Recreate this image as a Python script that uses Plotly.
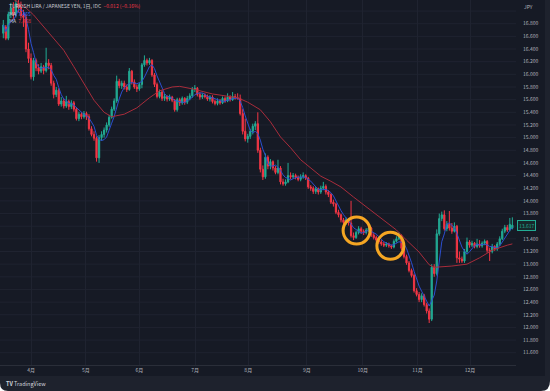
import plotly.graph_objects as go
import pandas as pd

# ---- data (TRY/JPY daily) ----
opens = [16.65, 16.75, 16.57, 16.95, 17.05, 16.94, 17.12, 17.06, 16.93, 16.90,
         16.40, 16.25, 15.96, 16.22, 16.10, 16.05, 16.12, 16.06, 16.18, 16.14,
         15.86, 15.68, 15.75, 15.53, 15.58, 15.50, 15.57, 15.49, 15.55, 15.45,
         15.30, 15.37, 15.33, 15.38, 15.33, 15.14, 15.05, 14.99, 14.68, 15.00,
         15.05, 15.12, 15.20, 15.32, 15.45, 15.58, 15.89, 15.82, 15.86, 15.80,
         15.76, 16.05, 15.88, 15.80, 15.77, 15.84, 16.15, 16.22, 16.18, 16.22,
         15.99, 15.84, 15.65, 15.72, 15.62, 15.65, 15.61, 15.64, 15.59, 15.44,
         15.60, 15.55, 15.62, 15.56, 15.62, 15.66, 15.76, 15.78, 15.68, 15.64,
         15.67, 15.65, 15.61, 15.64, 15.57, 15.54, 15.58, 15.55, 15.62, 15.58,
         15.64, 15.60, 15.65, 15.63, 15.62, 15.38, 15.10, 14.98, 15.02, 15.10,
         15.18, 15.22, 14.80, 14.50, 14.38, 14.69, 14.55, 14.62, 14.52, 14.45,
         14.52, 14.30, 14.27, 14.30, 14.40, 14.38, 14.40, 14.37, 14.34, 14.38,
         14.40, 14.36, 14.22, 14.20, 14.15, 14.19, 14.14, 14.20, 14.23, 14.14,
         14.10, 13.98, 13.95, 13.82, 13.78, 13.70, 13.66, 13.70, 13.65, 13.45,
         13.42, 13.50, 13.56, 13.52, 13.50, 13.54, 13.57, 13.46, 13.42, 13.38,
         13.35, 13.32, 13.30, 13.32, 13.29, 13.27, 13.36, 13.40, 13.45, 13.25,
         13.12, 13.02, 12.90, 12.82, 12.58, 12.52, 12.44, 12.50, 12.36, 12.26,
         12.13, 12.95, 12.85, 13.48, 13.72, 13.78, 13.56, 13.63, 13.57, 13.52,
         13.60, 13.10, 13.08, 13.05, 13.20, 13.35, 13.30, 13.33, 13.28, 13.32,
         13.29, 13.33, 13.36, 13.22, 13.20, 13.28, 13.24, 13.32, 13.40, 13.52,
         13.58, 13.54, 13.57]
highs = [16.86, 16.78, 16.99, 17.13, 17.14, 17.20, 17.24, 17.15, 17.02, 16.95,
         16.50, 16.33, 16.26, 16.25, 16.16, 16.18, 16.15, 16.42, 16.24, 16.18,
         15.90, 15.80, 15.78, 15.64, 15.62, 15.66, 15.60, 15.59, 15.58, 15.48,
         15.41, 15.40, 15.42, 15.41, 15.37, 15.18, 15.10, 15.02, 15.04, 15.10,
         15.16, 15.24, 15.36, 15.49, 15.62, 15.98, 15.93, 15.90, 15.90, 15.84,
         16.10, 16.07, 15.92, 15.84, 15.87, 16.18, 16.30, 16.25, 16.26, 16.24,
         16.02, 15.87, 15.76, 15.75, 15.69, 15.67, 15.68, 15.66, 15.61, 15.63,
         15.63, 15.65, 15.64, 15.66, 15.70, 15.80, 15.83, 15.80, 15.72, 15.70,
         15.70, 15.68, 15.67, 15.67, 15.60, 15.62, 15.61, 15.65, 15.65, 15.70,
         15.67, 15.72, 15.69, 15.70, 15.68, 15.45, 15.30, 15.06, 15.14, 15.22,
         15.26, 15.40, 14.84, 14.56, 14.75, 14.72, 14.66, 14.64, 14.55, 14.65,
         14.55, 14.35, 14.34, 14.60, 14.45, 14.44, 14.43, 14.40, 14.42, 14.45,
         14.42, 14.38, 14.25, 14.23, 14.22, 14.21, 14.24, 14.30, 14.26, 14.17,
         14.12, 14.02, 13.97, 13.86, 13.80, 13.73, 13.74, 13.72, 14.00, 13.50,
         13.53, 13.60, 13.59, 13.55, 13.57, 13.60, 13.59, 13.49, 13.45, 13.41,
         13.38, 13.35, 13.35, 13.34, 13.31, 13.39, 13.44, 13.50, 13.47, 13.28,
         13.15, 13.05, 12.93, 12.85, 12.62, 12.56, 12.54, 12.53, 12.39, 12.30,
         13.00, 13.00, 13.55, 13.80, 13.83, 13.85, 13.68, 13.84, 13.65, 13.66,
         13.62, 13.20, 13.12, 13.24, 13.42, 13.38, 13.37, 13.35, 13.40, 13.38,
         13.36, 13.39, 13.38, 13.26, 13.32, 13.30, 13.35, 13.44, 13.56, 13.62,
         13.62, 13.73, 13.74]
lows = [16.57, 16.54, 16.54, 16.89, 16.86, 16.90, 16.98, 16.88, 16.75, 16.35,
        16.18, 15.92, 15.90, 16.05, 16.00, 16.02, 16.00, 16.03, 16.08, 15.82,
        15.62, 15.64, 15.50, 15.49, 15.46, 15.47, 15.44, 15.45, 15.41, 15.27,
        15.26, 15.29, 15.30, 15.28, 15.11, 15.02, 14.95, 14.62, 14.60, 14.95,
        15.00, 15.08, 15.17, 15.30, 15.42, 15.55, 15.78, 15.77, 15.76, 15.72,
        15.74, 15.84, 15.77, 15.72, 15.74, 15.78, 16.12, 16.14, 16.15, 15.96,
        15.80, 15.62, 15.62, 15.58, 15.58, 15.57, 15.58, 15.56, 15.41, 15.41,
        15.50, 15.52, 15.52, 15.53, 15.59, 15.63, 15.72, 15.65, 15.60, 15.61,
        15.62, 15.58, 15.57, 15.54, 15.51, 15.51, 15.52, 15.53, 15.55, 15.56,
        15.57, 15.58, 15.60, 15.60, 15.35, 15.05, 14.94, 14.92, 14.98, 15.05,
        15.12, 14.76, 14.45, 14.33, 14.35, 14.50, 14.50, 14.48, 14.42, 14.42,
        14.26, 14.24, 14.24, 14.28, 14.34, 14.35, 14.34, 14.31, 14.31, 14.35,
        14.33, 14.19, 14.16, 14.11, 14.11, 14.10, 14.11, 14.17, 14.10, 14.06,
        13.95, 13.91, 13.79, 13.74, 13.66, 13.62, 13.62, 13.61, 13.42, 13.38,
        13.40, 13.47, 13.48, 13.46, 13.47, 13.51, 13.43, 13.39, 13.35, 13.32,
        13.29, 13.27, 13.27, 13.26, 13.24, 13.25, 13.34, 13.38, 13.22, 13.09,
        12.99, 12.87, 12.79, 12.55, 12.49, 12.40, 12.40, 12.33, 12.22, 12.07,
        12.10, 12.80, 12.82, 13.45, 13.68, 13.53, 13.52, 13.53, 13.48, 13.50,
        13.02, 13.02, 13.02, 13.02, 13.17, 13.26, 13.27, 13.25, 13.25, 13.26,
        13.26, 13.30, 13.18, 13.05, 13.17, 13.21, 13.21, 13.29, 13.38, 13.49,
        13.51, 13.52, 13.55]
closes = [16.78, 16.57, 16.95, 17.05, 16.94, 17.12, 17.06, 16.93, 16.90, 16.40,
          16.25, 15.96, 16.22, 16.10, 16.05, 16.12, 16.06, 16.18, 16.14, 15.86,
          15.68, 15.75, 15.53, 15.58, 15.50, 15.57, 15.49, 15.55, 15.45, 15.30,
          15.37, 15.33, 15.38, 15.33, 15.14, 15.05, 14.99, 14.68, 15.00, 15.05,
          15.12, 15.20, 15.32, 15.45, 15.58, 15.89, 15.82, 15.86, 15.80, 15.76,
          16.05, 15.88, 15.80, 15.77, 15.84, 16.15, 16.22, 16.18, 16.22, 15.99,
          15.84, 15.65, 15.72, 15.62, 15.65, 15.61, 15.64, 15.59, 15.44, 15.60,
          15.55, 15.62, 15.56, 15.62, 15.66, 15.76, 15.78, 15.68, 15.64, 15.67,
          15.65, 15.61, 15.64, 15.57, 15.54, 15.58, 15.55, 15.62, 15.58, 15.64,
          15.60, 15.65, 15.63, 15.62, 15.38, 15.10, 14.98, 15.02, 15.10, 15.18,
          15.22, 14.80, 14.50, 14.38, 14.69, 14.55, 14.62, 14.52, 14.45, 14.52,
          14.30, 14.27, 14.30, 14.40, 14.38, 14.40, 14.37, 14.34, 14.38, 14.40,
          14.36, 14.22, 14.20, 14.15, 14.19, 14.14, 14.20, 14.23, 14.14, 14.10,
          13.98, 13.95, 13.82, 13.78, 13.70, 13.66, 13.70, 13.65, 13.45, 13.42,
          13.50, 13.56, 13.52, 13.50, 13.54, 13.57, 13.46, 13.42, 13.38, 13.35,
          13.32, 13.30, 13.32, 13.29, 13.27, 13.36, 13.40, 13.45, 13.25, 13.12,
          13.02, 12.90, 12.82, 12.58, 12.52, 12.44, 12.50, 12.36, 12.26, 12.13,
          12.95, 12.85, 13.48, 13.72, 13.78, 13.56, 13.63, 13.57, 13.52, 13.60,
          13.10, 13.08, 13.05, 13.20, 13.35, 13.30, 13.33, 13.28, 13.32, 13.29,
          13.33, 13.36, 13.22, 13.20, 13.28, 13.24, 13.32, 13.40, 13.52, 13.58,
          13.54, 13.629, 13.617]

# long moving average (candle index, value)
ma_long_idx = [0, 6, 9, 12, 16, 20, 24, 28, 32, 36, 40, 43, 48, 53, 58, 62, 67,
               70, 75, 83, 93, 97, 102, 106, 110, 114, 118, 122, 126, 130, 134,
               139, 147, 156, 160, 165, 169, 171, 178, 184, 189, 194, 200, 202]
ma_long_val = [17.30, 17.14, 17.05, 16.94, 16.75, 16.57, 16.38, 16.12, 15.86,
               15.59, 15.40, 15.33, 15.37, 15.47, 15.63, 15.74, 15.80, 15.81,
               15.77, 15.69, 15.63, 15.56, 15.44, 15.25, 15.01, 14.84, 14.65,
               14.52, 14.39, 14.31, 14.22, 14.06, 13.81, 13.54, 13.38, 13.19,
               12.99, 12.95, 12.97, 13.00, 13.10, 13.22, 13.30, 13.32]

month_labels = ["4月", "5月", "6月", "7月", "8月", "9月", "10月", "11月", "12月"]
month_pos = [11.0, 32.8, 54.0, 76.1, 97.2, 120.5, 142.6, 164.4, 185.2]

# 13.600 is hidden behind the last-price label in the reference
price_ticks = [11.6, 11.8, 12.0, 12.2, 12.4, 12.6, 12.8, 13.0, 13.2, 13.4,
               13.8, 14.0, 14.2, 14.4, 14.6, 14.8, 15.0, 15.2, 15.4,
               15.6, 15.8, 16.0, 16.2, 16.4, 16.6, 16.8]
grid_ticks = [11.6, 11.8, 12.0, 12.2, 12.4, 12.6, 12.8, 13.0, 13.2, 13.4,
              13.6, 13.8, 14.0, 14.2, 14.4, 14.6, 14.8, 15.0, 15.2, 15.4,
              15.6, 15.8, 16.0, 16.2, 16.4, 16.6, 16.8, 17.0]

circle_idx = [140.2, 153.6]
circle_price = [13.53, 13.29]

last_price = closes[-1]

# ---- figure ----
W, H = 550, 391
ML, MR, MT, MB = 0, 34, 0, 26
PW, PH = W - ML - MR, H - MT - MB

def px_x(px):
    return (px - ML) / PW

def px_y(py):
    return (H - MB - py) / PH

UP = "#22ab94"
DOWN = "#f23645"
BG = "#161a25"
STRIP = "#1e222d"
GRID = "#1f2330"
TXT = "#b2b5be"
FONT = "Noto Sans CJK JP, Noto Sans, sans-serif"

x = list(range(len(closes)))
ma_short = pd.Series(closes).rolling(5, min_periods=1).mean()

fig = go.Figure()
fig.add_trace(go.Candlestick(
    x=x, open=opens, high=highs, low=lows, close=closes,
    increasing=dict(line=dict(color=UP, width=1), fillcolor=UP),
    decreasing=dict(line=dict(color=DOWN, width=1), fillcolor=DOWN),
    hoverinfo="skip",
))
fig.add_trace(go.Scatter(x=x, y=ma_short, mode="lines",
                         line=dict(color="#2c4fd0", width=1), hoverinfo="skip"))
fig.add_trace(go.Scatter(x=ma_long_idx, y=ma_long_val, mode="lines",
                         line=dict(color="#a82c3b", width=1), hoverinfo="skip"))

xr = [-1.31, 203.45]
yr = [11.406, 17.175]

shapes = []
# horizontal grid lines (including the hidden-label level)
for g in grid_ticks:
    shapes.append(dict(type="line", xref="paper", yref="y", x0=0, x1=1,
                       y0=g, y1=g, line=dict(color=GRID, width=1),
                       layer="below"))
# frame strips
shapes.append(dict(type="rect", xref="paper", yref="paper",
                   x0=px_x(0), x1=px_x(W), y0=px_y(H), y1=px_y(376),
                   fillcolor=STRIP, line=dict(width=0), layer="below"))
shapes.append(dict(type="rect", xref="paper", yref="paper",
                   x0=px_x(545), x1=px_x(W), y0=px_y(H), y1=px_y(0),
                   fillcolor=STRIP, line=dict(width=0), layer="below"))
# rounded white corners
shapes.append(dict(type="path", xref="paper", yref="paper",
                   path=f"M {px_x(0)},{px_y(H)} L {px_x(0)},{px_y(383)} "
                        f"Q {px_x(0)},{px_y(H)} {px_x(8)},{px_y(H)} Z",
                   fillcolor="#ffffff", line=dict(width=0), layer="above"))
shapes.append(dict(type="path", xref="paper", yref="paper",
                   path=f"M {px_x(W)},{px_y(H)} L {px_x(W)},{px_y(381)} "
                        f"Q {px_x(W)},{px_y(H)} {px_x(541)},{px_y(H)} Z",
                   fillcolor="#ffffff", line=dict(width=0), layer="above"))
# orange highlight circles
rpx = 13.5
rx = rpx * (xr[1] - xr[0]) / PW
ry = rpx * (yr[1] - yr[0]) / PH
for cx, cy in zip(circle_idx, circle_price):
    shapes.append(dict(type="circle", xref="x", yref="y",
                       x0=cx - rx, x1=cx + rx, y0=cy - ry, y1=cy + ry,
                       line=dict(color="#f5a623", width=3), layer="above"))

annotations = [
    dict(xref="paper", yref="paper", x=px_x(7), y=px_y(6.3), xanchor="left",
         yanchor="middle", showarrow=False,
         text="TURKISH LIRA / JAPANESE YEN, 1日, IDC&nbsp;&nbsp;"
              f"<span style='color:{DOWN}'>−0.012 (−0.16%)</span>",
         font=dict(family=FONT, size=5, color="#c8cbd3")),
    dict(xref="paper", yref="paper", x=px_x(7), y=px_y(14), xanchor="left",
         yanchor="middle", showarrow=False,
         text="MA&nbsp;&nbsp;<span style='color:#2f6bff'>7.465</span>",
         font=dict(family=FONT, size=5, color="#c8cbd3")),
    dict(xref="paper", yref="paper", x=px_x(7), y=px_y(20.5), xanchor="left",
         yanchor="middle", showarrow=False,
         text=f"MA&nbsp;&nbsp;<span style='color:{DOWN}'>7.468</span>",
         font=dict(family=FONT, size=5, color="#c8cbd3")),
    dict(xref="paper", yref="paper", x=px_x(522), y=px_y(6), xanchor="left",
         yanchor="middle", showarrow=False, text="JPY",
         font=dict(family=FONT, size=5, color=TXT)),
    dict(xref="paper", yref="y", x=px_x(517), y=last_price, xanchor="left",
         yanchor="middle", showarrow=False, text=f"{last_price:.3f}",
         font=dict(family=FONT, size=5, color=UP),
         bgcolor="#17282b", bordercolor=UP, borderwidth=1, borderpad=1),
    dict(xref="paper", yref="paper", x=px_x(4), y=px_y(384), xanchor="left",
         yanchor="middle", showarrow=False,
         text="<b>TV</b> TradingView",
         font=dict(family=FONT, size=5.5, color="#d1d4dc")),
]

fig.update_layout(
    width=W, height=H,
    margin=dict(l=ML, r=MR, t=MT, b=MB, pad=0),
    paper_bgcolor=BG, plot_bgcolor=BG,
    showlegend=False,
    font=dict(family=FONT, size=5, color=TXT),
    shapes=shapes, annotations=annotations,
    xaxis=dict(range=xr, tickvals=month_pos, ticktext=month_labels,
               showgrid=True, gridcolor=GRID, gridwidth=1, zeroline=False,
               showline=True, linecolor="#2a2e39", linewidth=1, ticks="",
               rangeslider=dict(visible=False), fixedrange=True,
               tickfont=dict(family=FONT, size=5, color=TXT)),
    yaxis=dict(side="right", range=yr, tickvals=price_ticks,
               tickformat=".3f", showgrid=False, zeroline=False,
               showline=False, ticks="", ticklabelstandoff=6,
               fixedrange=True,
               tickfont=dict(family=FONT, size=5, color=TXT)),
)

fig.write_html("out.html")
